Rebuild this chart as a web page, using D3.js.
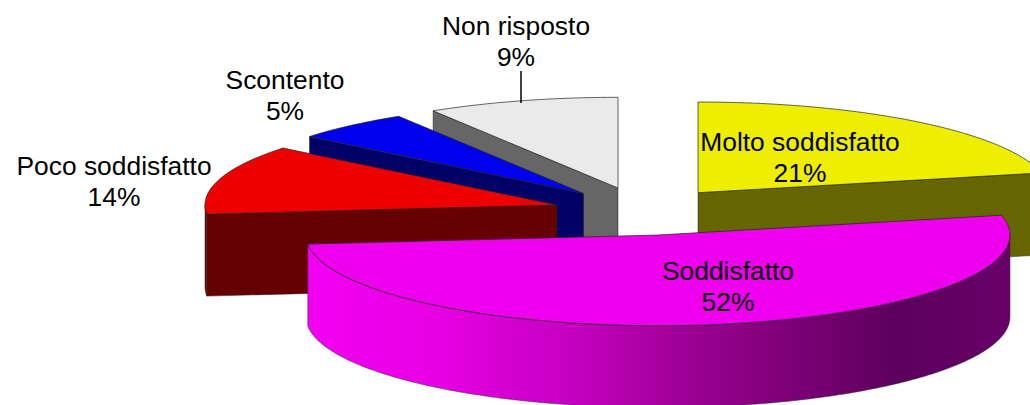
<!DOCTYPE html>
<html><head><meta charset="utf-8">
<script src="https://cdn.jsdelivr.net/npm/d3@7/dist/d3.min.js"></script>
<style>html,body{margin:0;padding:0;background:#fff}svg{display:block}</style>
</head><body><svg id="c" width="1030" height="405"></svg>
<script>
// data
const categories = ["Molto soddisfatto","Soddisfatto","Poco soddisfatto","Scontento","Non risposto"];
const shares = [21.5, 51.9, 12.4, 5.4, 8.8];
const percentLabels = ["21%","52%","14%","5%","9%"];
// layout and style
const W = 1030, H = 405, RX = 352, RY = 90.7, DEPTH = 82;
const apexX = [698, 658, 557, 583.5, 618];
const apexY = [192.7, 235, 205, 193.5, 188];
const topFill = ["#eeee00","#ee00ee","#ee0000","#0000ee","#eaeaea"];
const wallFill = ["#666600","url(#wall)","#660000","#000066","#666666"];
const labelX = [800, 728, 114, 285, 516];
const labelY = [151, 280, 175, 88.5, 35];
const lineGap = 31;
const drawOrder = [4,3,2,0,1];

const svg = d3.select("#c");
const defs = svg.append("defs");
const grad = defs.append("linearGradient").attr("id","wall").attr("gradientUnits","userSpaceOnUse")
  .attr("x1",307).attr("x2",1010).attr("y1",0).attr("y2",0);
[[0,"#f200f2"],[.18,"#e800e4"],[.4,"#c000bc"],[.56,"#98008e"],[.84,"#5c005c"],[1,"#680068"]]
  .forEach(s=>grad.append("stop").attr("offset",s[0]).attr("stop-color",s[1]));

const arcs = d3.pie().sort(null).value(d=>d)(shares);

function scalesFor(i){
  return {
    x: d3.scaleLinear().domain([-1,1]).range([apexX[i]-RX, apexX[i]+RX]),
    y: d3.scaleLinear().domain([-1,1]).range([apexY[i]-RY, apexY[i]+RY])
  };
}
function rim(a0,a1){
  const n = Math.max(2,Math.ceil(Math.abs(a1-a0)/0.01));
  return d3.range(n+1).map(k=>{const a=a0+(a1-a0)*k/n;return [Math.sin(a),-Math.cos(a)];});
}
drawOrder.forEach(i=>{
  const a = arcs[i], s = scalesFor(i);
  const line = d3.line().x(p=>s.x(p[0])).y(p=>s.y(p[1])+(p[2]||0));
  const g = svg.append("g").attr("class","slice");
  const cut = (ang)=>{
    const p=[Math.sin(ang),-Math.cos(ang)];
    g.append("path").attr("d",line([[0,0],p,[p[0],p[1],DEPTH],[0,0,DEPTH]])+"Z")
      .attr("fill",wallFill[i]).attr("stroke","#222").attr("stroke-width",0.5);
  };
  if(i===0) cut(a.endAngle);
  else if(i!==1) cut(a.startAngle);
  // outer wall: visible where the rim faces the viewer
  const lo = Math.max(a.startAngle,Math.PI/2), hi = Math.min(a.endAngle,Math.PI*1.5);
  if(hi>lo){
    const top = rim(lo,hi), bot = rim(hi,lo).map(p=>[p[0],p[1],DEPTH]);
    g.append("path").attr("d",line(top.concat(bot))+"Z")
      .attr("fill",wallFill[i]).attr("stroke","#333").attr("stroke-width",0.5);
  }
  // top face
  g.append("path").attr("d",line([[0,0]].concat(rim(a.startAngle,a.endAngle)))+"Z")
    .attr("fill",topFill[i]).attr("stroke","#222").attr("stroke-width",0.7).attr("stroke-linejoin","round");
});

// leader line of the top label
svg.append("line").attr("x1",521).attr("x2",521).attr("y1",71).attr("y2",103)
  .attr("stroke","#000").attr("stroke-width",1.5);

// labels
categories.forEach((c,i)=>{
  const t = svg.append("text").attr("text-anchor","middle")
    .attr("font-family","'Liberation Sans',Arial,sans-serif").attr("font-size",26.4).attr("fill","#000");
  t.append("tspan").attr("x",labelX[i]).attr("y",labelY[i]).text(c);
  t.append("tspan").attr("x",labelX[i]).attr("y",labelY[i]+lineGap).text(percentLabels[i]);
});
</script></body></html>
